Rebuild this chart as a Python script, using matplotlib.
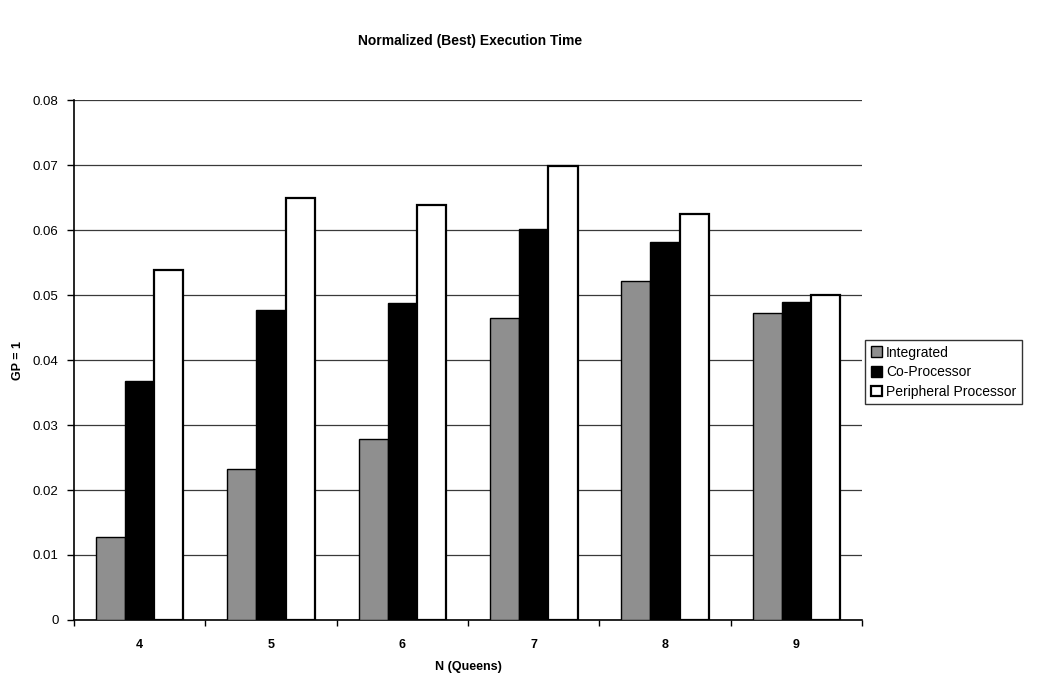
import numpy as np
import matplotlib.pyplot as plt
from matplotlib.ticker import FixedLocator

plt.rcParams['font.family'] = ['Liberation Sans', 'DejaVu Sans']

queens = ['4', '5', '6', '7', '8', '9']
integrated = [0.0127, 0.0233, 0.0278, 0.0465, 0.0521, 0.0473]
co_processor = [0.0368, 0.0477, 0.0488, 0.0601, 0.0582, 0.0490]
peripheral = [0.0539, 0.0650, 0.0638, 0.0698, 0.0624, 0.0500]
ytick_vals = [0, 0.01, 0.02, 0.03, 0.04, 0.05, 0.06, 0.07, 0.08]
ytick_labels = ['0', '0.01', '0.02', '0.03', '0.04', '0.05', '0.06', '0.07', '0.08']

fig = plt.figure(figsize=(10.45, 6.79), dpi=100)
ax = fig.add_axes([0.0708, 0.0869, 0.7542, 0.7658])

x = np.arange(len(queens))
w = 0.667 / 3

ax.bar(x - w, integrated, w, color='#8f8f8f', edgecolor='black', linewidth=1, label='Integrated', zorder=3)
ax.bar(x, co_processor, w, color='black', edgecolor='black', linewidth=1, label='Co-Processor', zorder=3)
ax.bar(x + w, peripheral, w, color='white', edgecolor='black', linewidth=1.6, label='Peripheral Processor', zorder=3)

ax.set_xlim(-0.5, len(queens) - 0.5)
ax.set_ylim(0, 0.08)
ax.set_yticks(ytick_vals)
ax.set_yticklabels(ytick_labels)
ax.set_xticks(x)
ax.set_xticklabels(queens, fontweight='bold')
ax.xaxis.set_minor_locator(FixedLocator(np.arange(-0.5, len(queens), 1.0)))
ax.tick_params(axis='x', which='major', length=0, labelsize=9, pad=14)
ax.tick_params(axis='x', which='minor', length=4, width=1, direction='out')
ax.tick_params(axis='y', length=5, width=1, labelsize=9.5, pad=6)

ax.grid(axis='y', color='#3a3a3a', linewidth=0.9, zorder=0)
for s in ['top', 'right']:
    ax.spines[s].set_visible(False)
ax.spines['left'].set_linewidth(1.2)
ax.spines['bottom'].set_linewidth(1.2)

ax.set_xlabel('N (Queens)', fontsize=9, fontweight='bold', labelpad=7)
ax.set_ylabel('GP = 1', fontsize=9, fontweight='bold', labelpad=6)
fig.text(0.45, 0.94, 'Normalized (Best) Execution Time', ha='center', va='center',
         fontsize=10, fontweight='bold')

leg = fig.legend(loc='center left', bbox_to_anchor=(0.828, 0.452), fontsize=10,
                 frameon=True, fancybox=False, handlelength=0.8, handleheight=0.8,
                 handletextpad=0.3, borderpad=0.4, labelspacing=0.4, borderaxespad=0)
leg.get_frame().set_edgecolor('black')
leg.get_frame().set_linewidth(1)

fig.savefig('out.png', dpi=100)
